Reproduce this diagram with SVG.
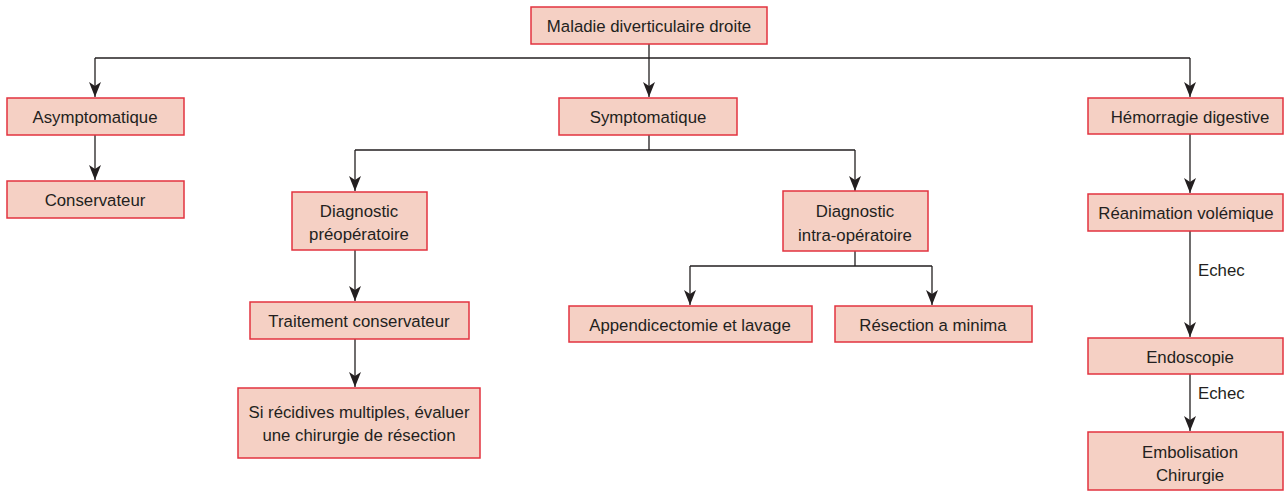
<svg xmlns="http://www.w3.org/2000/svg" width="1284" height="491" viewBox="0 0 1284 491">
<style>
.n rect{fill:#f5d0c4;stroke:#e2333f;stroke-width:1.5}
text{font-family:"Liberation Sans",Arial,sans-serif;font-size:16.8px;fill:#231f20;text-anchor:middle}
.c path{fill:none;stroke:#231f20;stroke-width:1.3}
.lbl{text-anchor:start}
</style>
<defs>
<marker id="a" viewBox="0 0 15 12" refX="15" refY="6" markerWidth="15" markerHeight="12" markerUnits="userSpaceOnUse" orient="auto">
<path d="M0,0 L4,6 L0,12 L15,6 Z" fill="#231f20"/>
</marker>
</defs>
<g class="c">
<path d="M649,44 V58"/>
<path d="M95,58 H1190"/>
<path d="M95,58 V97" marker-end="url(#a)"/>
<path d="M649,58 V97" marker-end="url(#a)"/>
<path d="M1190,58 V97" marker-end="url(#a)"/>
<path d="M95,135 V180" marker-end="url(#a)"/>
<path d="M649,135 V150 M355,150 H855"/>
<path d="M355,150 V191" marker-end="url(#a)"/>
<path d="M855,150 V191" marker-end="url(#a)"/>
<path d="M355,250 V301" marker-end="url(#a)"/>
<path d="M355,339 V387" marker-end="url(#a)"/>
<path d="M855,251 V266 M690,266 H932"/>
<path d="M690,266 V305" marker-end="url(#a)"/>
<path d="M932,266 V305" marker-end="url(#a)"/>
<path d="M1190,134 V193" marker-end="url(#a)"/>
<path d="M1190,231 V337" marker-end="url(#a)"/>
<path d="M1190,374 V431" marker-end="url(#a)"/>
<text class="lbl" x="1198" y="276">Echec</text>
<text class="lbl" x="1198" y="399">Echec</text>
</g>
<g id="maladie" class="n"><rect x="531" y="7" width="236" height="37"/><text x="649" y="32">Maladie diverticulaire droite</text></g>
<g id="asympto" class="n"><rect x="7" y="98" width="177" height="37"/><text x="95" y="123">Asymptomatique</text></g>
<g id="conserv" class="n"><rect x="7" y="181" width="177" height="37"/><text x="95" y="206">Conservateur</text></g>
<g id="sympto" class="n"><rect x="559" y="98" width="178" height="37"/><text x="648" y="123">Symptomatique</text></g>
<g id="hemo" class="n"><rect x="1088" y="98" width="195" height="36"/><text x="1190" y="123">Hémorragie digestive</text></g>
<g id="diagpre" class="n"><rect x="292" y="192" width="135" height="58"/><text x="359" y="217">Diagnostic</text><text x="359" y="240">préopératoire</text></g>
<g id="diagintra" class="n"><rect x="783" y="191" width="145" height="60"/><text x="855" y="217">Diagnostic</text><text x="855" y="241">intra-opératoire</text></g>
<g id="trait" class="n"><rect x="250" y="302" width="219" height="37"/><text x="359" y="327">Traitement conservateur</text></g>
<g id="recid" class="n"><rect x="238" y="388" width="242" height="70"/><text x="359" y="418">Si récidives multiples, évaluer</text><text x="359" y="441">une chirurgie de résection</text></g>
<g id="append" class="n"><rect x="569" y="306" width="243" height="36"/><text x="690" y="331">Appendicectomie et lavage</text></g>
<g id="resec" class="n"><rect x="835" y="306" width="197" height="36"/><text x="933" y="331">Résection a minima</text></g>
<g id="reanim" class="n"><rect x="1088" y="194" width="195" height="37"/><text x="1186" y="219">Réanimation volémique</text></g>
<g id="endo" class="n"><rect x="1088" y="338" width="195" height="36"/><text x="1190" y="363">Endoscopie</text></g>
<g id="embol" class="n"><rect x="1088" y="432" width="195" height="58"/><text x="1190" y="458">Embolisation</text><text x="1190" y="481">Chirurgie</text></g>
</svg>
